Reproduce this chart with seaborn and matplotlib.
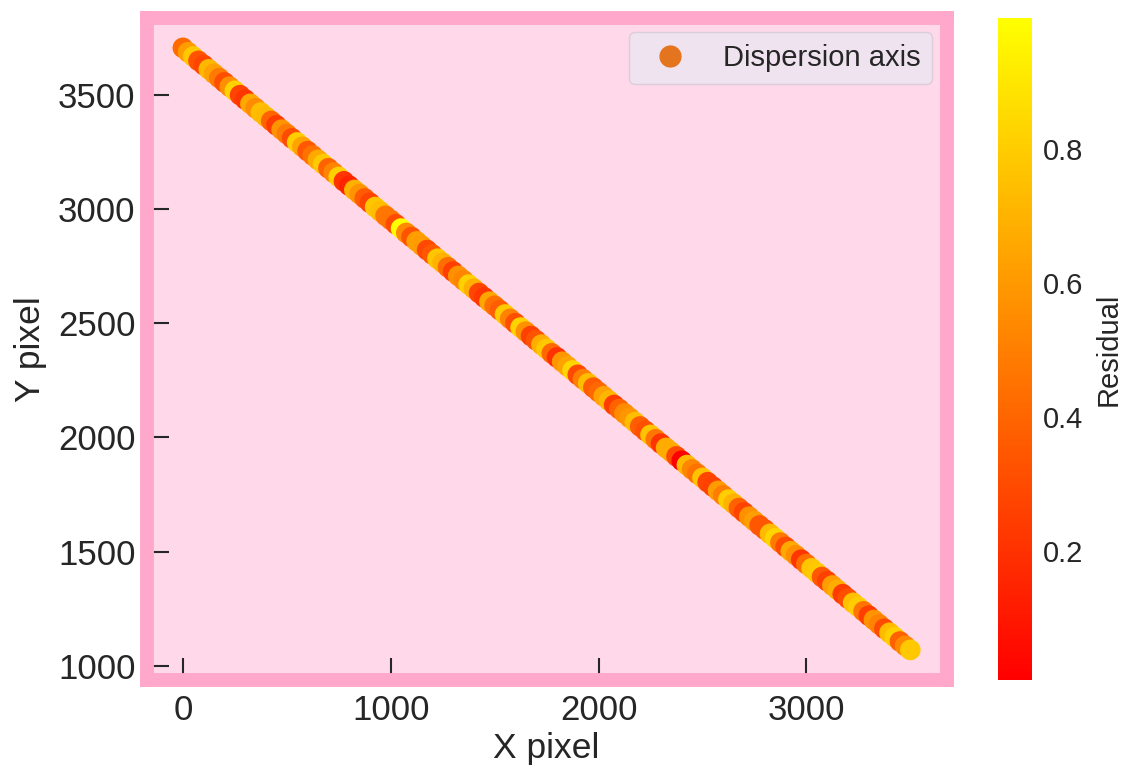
import numpy as np
import matplotlib
matplotlib.use('Agg')
import matplotlib.pyplot as plt
import seaborn as sns
from matplotlib.lines import Line2D
from matplotlib.colors import Normalize
from matplotlib.cm import ScalarMappable

# points along the dispersion axis (pixel coordinates) and their residuals
x_pixel = [0, 25, 50, 75, 100, 125, 150, 175, 200, 225,
           250, 275, 300, 325, 350, 375, 400, 425, 450, 475,
           500, 525, 550, 575, 600, 625, 650, 675, 700, 725,
           750, 775, 800, 825, 850, 875, 900, 925, 950, 975,
           1000, 1025, 1050, 1075, 1100, 1125, 1150, 1175, 1200, 1225,
           1250, 1275, 1300, 1325, 1350, 1375, 1400, 1425, 1450, 1475,
           1500, 1525, 1550, 1575, 1600, 1625, 1650, 1675, 1700, 1725,
           1750, 1775, 1800, 1825, 1850, 1875, 1900, 1925, 1950, 1975,
           2000, 2025, 2050, 2075, 2100, 2125, 2150, 2175, 2200, 2225,
           2250, 2275, 2300, 2325, 2350, 2375, 2400, 2425, 2450, 2475,
           2500, 2525, 2550, 2575, 2600, 2625, 2650, 2675, 2700, 2725,
           2750, 2775, 2800, 2825, 2850, 2875, 2900, 2925, 2950, 2975,
           3000, 3025, 3050, 3075, 3100, 3125, 3150, 3175, 3200, 3225,
           3250, 3275, 3300, 3325, 3350, 3375, 3400, 3425, 3450, 3475,
           3500]
y_pixel = [3705, 3686, 3667, 3648, 3630, 3611, 3592, 3573, 3554, 3535,
           3517, 3498, 3479, 3460, 3441, 3422, 3403, 3385, 3366, 3347,
           3328, 3309, 3291, 3272, 3253, 3234, 3215, 3196, 3178, 3159,
           3140, 3121, 3102, 3083, 3065, 3046, 3027, 3008, 2989, 2970,
           2952, 2933, 2914, 2895, 2877, 2858, 2839, 2820, 2801, 2782,
           2764, 2745, 2726, 2707, 2688, 2669, 2651, 2632, 2613, 2594,
           2576, 2557, 2538, 2519, 2500, 2481, 2463, 2444, 2425, 2406,
           2387, 2368, 2350, 2331, 2312, 2293, 2274, 2255, 2237, 2218,
           2199, 2180, 2161, 2142, 2124, 2105, 2086, 2067, 2048, 2029,
           2011, 1992, 1973, 1954, 1936, 1917, 1898, 1879, 1860, 1841,
           1823, 1804, 1785, 1766, 1747, 1728, 1710, 1691, 1672, 1653,
           1634, 1615, 1597, 1578, 1559, 1540, 1521, 1502, 1484, 1465,
           1446, 1427, 1408, 1389, 1371, 1352, 1333, 1314, 1295, 1276,
           1258, 1239, 1220, 1201, 1182, 1163, 1145, 1126, 1107, 1088,
           1070]
residual = [0.42, 0.61, 0.78, 0.33, 0.28, 0.72, 0.63, 0.48, 0.31, 0.56,
            0.82, 0.27, 0.22, 0.66, 0.55, 0.74, 0.72, 0.39, 0.24, 0.58,
            0.48, 0.30, 0.80, 0.64, 0.35, 0.45, 0.66, 0.79, 0.39, 0.52,
            0.81, 0.21, 0.15, 0.69, 0.58, 0.36, 0.27, 0.77, 0.74, 0.47,
            0.46, 0.30, 0.995, 0.54, 0.33, 0.62, 0.61, 0.29, 0.35, 0.77,
            0.70, 0.43, 0.25, 0.57, 0.52, 0.81, 0.69, 0.28, 0.22, 0.65,
            0.44, 0.37, 0.79, 0.51, 0.31, 0.82, 0.57, 0.26, 0.33, 0.68,
            0.78, 0.41, 0.20, 0.59, 0.64, 0.84, 0.29, 0.49, 0.74, 0.36,
            0.41, 0.63, 0.71, 0.24, 0.39, 0.55, 0.59, 0.74, 0.37, 0.32,
            0.76, 0.47, 0.21, 0.67, 0.67, 0.30, 0.008, 0.72, 0.53, 0.45,
            0.76, 0.28, 0.26, 0.61, 0.49, 0.80, 0.70, 0.38, 0.27, 0.57,
            0.62, 0.34, 0.34, 0.73, 0.83, 0.48, 0.30, 0.66, 0.56, 0.22,
            0.43, 0.77, 0.79, 0.35, 0.26, 0.61, 0.68, 0.24, 0.31, 0.75,
            0.80, 0.46, 0.25, 0.58, 0.51, 0.30, 0.73, 0.81, 0.38, 0.53,
            0.78]

sns.set_theme(style='white')
plt.rcParams['font.family'] = ['Liberation Sans', 'DejaVu Sans']
text_color = '#262626'

fig = plt.figure(figsize=(11.27, 7.71), dpi=100)
ax = fig.add_axes([0.130, 0.118, 0.710, 0.859])
cax = fig.add_axes([0.8855, 0.118, 0.0302, 0.859])

norm = Normalize(vmin=min(residual), vmax=max(residual))
sns.scatterplot(x=x_pixel, y=y_pixel, hue=residual, palette='autumn',
                hue_norm=norm, s=220, linewidth=0, legend=False, ax=ax)

ax.set_facecolor('#FFD8EA')
for sp in ax.spines.values():
    sp.set_color('#FFA8CB')
    sp.set_linewidth(10)
    sp.set_zorder(3)

ax.set_xticks([0, 1000, 2000, 3000])
ax.set_yticks([1000, 1500, 2000, 2500, 3000, 3500])
ax.tick_params(axis='both', direction='in', length=16, width=1.5,
               bottom=True, left=True,
               color=text_color, labelsize=25, labelcolor=text_color)
ax.tick_params(axis='x', pad=10)
ax.tick_params(axis='y', pad=8)
ax.set_xlabel('X pixel', fontsize=25.5, color=text_color, labelpad=4)
ax.set_ylabel('Y pixel', fontsize=25.5, color=text_color, labelpad=8)

handle = Line2D([], [], marker='o', ls='', color='#E5741F', markersize=15,
                label='Dispersion axis')
leg = ax.legend(handles=[handle], loc='upper right', fontsize=21,
                facecolor='#EFE3F0', edgecolor='#DDCCDA', framealpha=1,
                borderaxespad=0.5)
for t in leg.get_texts():
    t.set_color(text_color)

sm = ScalarMappable(norm=norm, cmap='autumn')
cbar = fig.colorbar(sm, cax=cax)
cbar.outline.set_visible(False)
cbar.set_ticks([0.2, 0.4, 0.6, 0.8])
cbar.ax.tick_params(length=0, labelsize=21, labelcolor=text_color, pad=8)
cbar.set_label('Residual', fontsize=21, color=text_color, labelpad=8)

fig.savefig('out.png', dpi=100)
